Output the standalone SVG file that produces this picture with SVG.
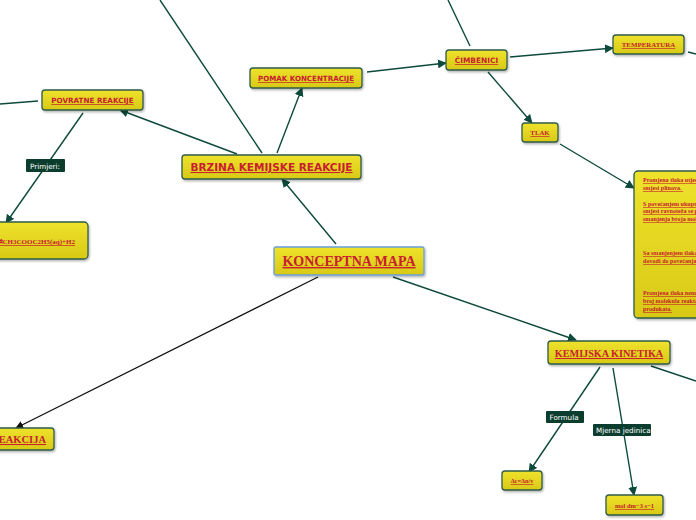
<svg xmlns="http://www.w3.org/2000/svg" width="696" height="520" viewBox="0 0 696 520">
<defs>
<linearGradient id="yg" x1="0" y1="0" x2="0" y2="1">
<stop offset="0" stop-color="#efe22c"/>
<stop offset="1" stop-color="#d8c916"/>
</linearGradient>
<filter id="sh" x="-10%" y="-20%" width="130%" height="150%">
<feDropShadow dx="1" dy="1.5" stdDeviation="1" flood-color="#000" flood-opacity="0.3"/>
</filter>
<marker id="ag" viewBox="0 0 10 10" refX="9" refY="5" markerWidth="9" markerHeight="9" markerUnits="userSpaceOnUse" orient="auto">
<path d="M0,0 L10,5 L0,10 z" fill="#0d4a3c"/>
</marker>
<marker id="ab" viewBox="0 0 10 10" refX="9" refY="5" markerWidth="8" markerHeight="8" markerUnits="userSpaceOnUse" orient="auto">
<path d="M0,0 L10,5 L0,10 z" fill="#111"/>
</marker>
<style>
.n{fill:url(#yg);stroke:#2f5c48;stroke-width:1.3;filter:url(#sh)}
.nb{fill:url(#yg);stroke:#6a9fd8;stroke-width:1.3;filter:url(#sh)}
.t{fill:#c8202f;text-decoration:underline;font-weight:bold}
.sa{font-family:"DejaVu Sans",Verdana,sans-serif}
.se{font-family:"Liberation Serif","Times New Roman",serif}
.c{fill:none;stroke:#0d4a3c;stroke-width:1.4}
.lb{fill:#0b3d2e}
.lt{fill:#fff;font-family:"DejaVu Sans",Verdana,sans-serif;font-size:7.2px}
</style>
</defs>
<g id="connectors">
<line class="c" x1="336" y1="244" x2="282" y2="179" marker-end="url(#ag)"/>
<line class="c" x1="277" y1="153" x2="302" y2="88" marker-end="url(#ag)"/>
<line class="c" x1="237" y1="154" x2="120" y2="110" marker-end="url(#ag)"/>
<line class="c" x1="262" y1="153" x2="160" y2="0"/>
<line class="c" x1="38" y1="101" x2="0" y2="104"/>
<line class="c" x1="83" y1="113" x2="6" y2="223" marker-end="url(#ag)"/>
<line class="c" x1="367" y1="72" x2="446" y2="63" marker-end="url(#ag)"/>
<line class="c" x1="470" y1="46" x2="448" y2="0"/>
<line class="c" x1="510" y1="57" x2="613" y2="48" marker-end="url(#ag)"/>
<line class="c" x1="688" y1="52" x2="696" y2="54"/>
<line class="c" x1="488" y1="72" x2="532" y2="123" marker-end="url(#ag)"/>
<line class="c" x1="560" y1="144" x2="634" y2="188" marker-end="url(#ag)"/>
<line class="c" x1="393" y1="277" x2="576" y2="340" marker-end="url(#ag)"/>
<line x1="318" y1="277" x2="16" y2="428" stroke="#111" stroke-width="1.3" marker-end="url(#ab)"/>
<line class="c" x1="651" y1="366" x2="696" y2="381"/>
<line class="c" x1="600" y1="367" x2="529" y2="472" marker-end="url(#ag)"/>
<line class="c" x1="613" y1="368" x2="634" y2="495" marker-end="url(#ag)"/>
<g id="lbl-primjeri"><rect class="lb" x="26" y="159" width="39" height="13" rx="1"/><text class="lt" x="30" y="168.5">Primjeri:</text></g>
<g id="lbl-formula"><rect class="lb" x="546" y="411" width="38" height="12" rx="1"/><text class="lt" x="549.5" y="420">Formula</text></g>
<g id="lbl-mjerna"><rect class="lb" x="593" y="424" width="58" height="12" rx="1"/><text class="lt" x="596" y="433">Mjerna jedinica</text></g>
</g>
<g id="konceptna-mapa"><rect class="nb" x="274" y="247" width="150" height="28" rx="2"/><text class="t se" x="349" y="266" font-size="14" text-anchor="middle">KONCEPTNA MAPA</text></g>
<g id="brzina"><rect class="n" x="182" y="155" width="179" height="24" rx="3"/><text class="t sa" x="271.5" y="171" font-size="10.5" text-anchor="middle">BRZINA KEMIJSKE REAKCIJE</text></g>
<g id="pomak"><rect class="n" x="250" y="68" width="112" height="20" rx="3"/><text class="t sa" x="306" y="81" font-size="7.1" text-anchor="middle">POMAK KONCENTRACIJE</text></g>
<g id="povratne"><rect class="n" x="42" y="90" width="101" height="20" rx="3"/><text class="t sa" x="92.5" y="103" font-size="7.2" text-anchor="middle">POVRATNE REAKCIJE</text></g>
<g id="primjer"><rect class="n" x="-10" y="222" width="98" height="37" rx="4"/><text class="t se" x="75" y="244" font-size="7" text-anchor="end">⇌CH3COOC2H5(aq)+H2</text></g>
<g id="reakcija"><rect class="n" x="-10" y="428" width="64" height="22" rx="3"/><text class="t se" x="46" y="443" font-size="10.5" text-anchor="end">REAKCIJA</text></g>
<g id="cimbenici"><rect class="n" x="446" y="50" width="61" height="20" rx="3"/><text class="t sa" x="476.5" y="63" font-size="7.4" text-anchor="middle">ČIMBENICI</text></g>
<g id="temperatura"><rect class="n" x="613" y="35" width="71" height="19" rx="3"/><text class="t se" x="648.5" y="47" font-size="6.9" text-anchor="middle">TEMPERATURA</text></g>
<g id="tlak"><rect class="n" x="522" y="123" width="36" height="19" rx="3"/><text class="t se" x="540" y="135" font-size="6.8" text-anchor="middle">TLAK</text></g>
<g id="tlak-tekst"><rect class="n" x="634" y="171" width="80" height="147" rx="4"/>
<text class="t se" font-size="6.1">
<tspan x="643" y="182">Promjena tlaka utječe na ravnotežu u</tspan>
<tspan x="643" y="190">smjesi plinova.</tspan>
<tspan x="643" y="206">S povećanjem ukupnog tlaka</tspan>
<tspan x="643" y="213">smjesi ravnoteža se pomiče</tspan>
<tspan x="643" y="221">smanjenja broja molekula</tspan>
<tspan x="643" y="255">Sa smanjenjem tlaka</tspan>
<tspan x="643" y="263">dovodi do povećanja</tspan>
<tspan x="643" y="295">Promjena tlaka nema</tspan>
<tspan x="643" y="303">broj molekula reaktanata</tspan>
<tspan x="643" y="311">produkata.</tspan>
</text></g>
<g id="kinetika"><rect class="n" x="548" y="341" width="122" height="23" rx="3"/><text class="t se" x="609" y="357" font-size="10.2" text-anchor="middle">KEMIJSKA KINETIKA</text></g>
<g id="formula"><rect class="n" x="502" y="471" width="40" height="19" rx="3"/><text class="t se" x="522" y="483" font-size="6.3" text-anchor="middle">Δc=Δn/v</text></g>
<g id="jedinica"><rect class="n" x="606" y="495" width="57" height="20" rx="3"/><text class="t se" x="634.5" y="508" font-size="6.5" text-anchor="middle">mol dm−3 s−1</text></g>
</svg>
